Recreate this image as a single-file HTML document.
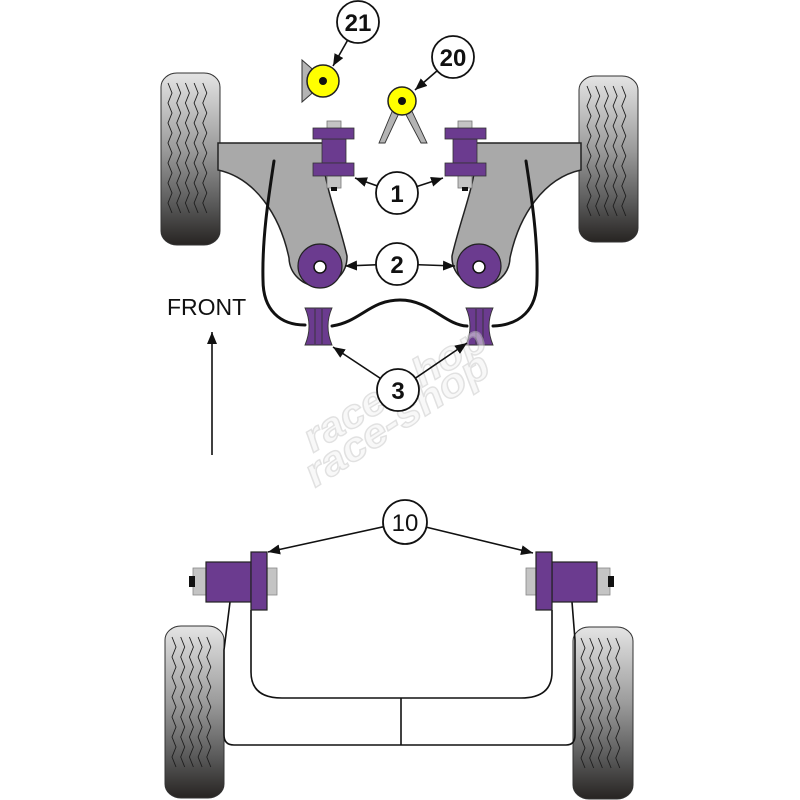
<!DOCTYPE html>
<html>
<head>
<meta charset="utf-8">
<style>
html,body{margin:0;padding:0;background:#fff;}
svg{display:block;}
text{font-family:"Liberation Sans",Arial,sans-serif;}
</style>
</head>
<body>
<svg width="800" height="800" viewBox="0 0 800 800" xmlns="http://www.w3.org/2000/svg">
<defs>
  <linearGradient id="tyre" x1="0" y1="0" x2="0" y2="1">
    <stop offset="0" stop-color="#e4e4e4"/>
    <stop offset="0.45" stop-color="#9a9a9a"/>
    <stop offset="0.78" stop-color="#565656"/>
    <stop offset="1" stop-color="#272422"/>
  </linearGradient>
  <g id="tr">
    <path fill="none" stroke="#1e1e1e" stroke-width="0.9" d="
      M0,0 l4,10 l-4,10 l4,10 l-4,10 l4,10 l-4,10 l4,10 l-4,10 l4,10 l-4,10 l4,10 l-4,10 l4,10
      M8.7,0 l4,10 l-4,10 l4,10 l-4,10 l4,10 l-4,10 l4,10 l-4,10 l4,10 l-4,10 l4,10 l-4,10 l4,10
      M17.4,0 l4,10 l-4,10 l4,10 l-4,10 l4,10 l-4,10 l4,10 l-4,10 l4,10 l-4,10 l4,10 l-4,10 l4,10
      M26.1,0 l4,10 l-4,10 l4,10 l-4,10 l4,10 l-4,10 l4,10 l-4,10 l4,10 l-4,10 l4,10 l-4,10 l4,10
      M34.8,0 l4,10 l-4,10 l4,10 l-4,10 l4,10 l-4,10 l4,10 l-4,10 l4,10 l-4,10 l4,10 l-4,10 l4,10"/>
  </g>
  <marker id="ah" viewBox="0 0 12 10" refX="12" refY="5" markerWidth="12" markerHeight="10" markerUnits="userSpaceOnUse" orient="auto">
    <path d="M0,0 L12,5 L0,10 z" fill="#111"/>
  </marker>
</defs>

<rect width="800" height="800" fill="#fff"/>

<!-- ============ WHEELS ============ -->
<g stroke="#333" stroke-width="1">
  <rect x="161" y="73" width="59" height="172" rx="16" ry="14" fill="url(#tyre)"/>
  <rect x="579" y="76" width="59" height="166" rx="16" ry="14" fill="url(#tyre)"/>
  <rect x="165" y="626" width="59" height="172" rx="16" ry="14" fill="url(#tyre)"/>
  <rect x="573" y="627" width="60" height="172" rx="16" ry="14" fill="url(#tyre)"/>
</g>
<use href="#tr" transform="translate(168,83)"/>
<use href="#tr" transform="translate(587,86)"/>
<use href="#tr" transform="translate(172,637)"/>
<use href="#tr" transform="translate(581,638)"/>

<!-- ============ TOP ARMS ============ -->
<g>
  <path d="M218,143 L324,143 L324,168 C328,195 340,225 347,256 A29,29 0 1 1 289,258 C280,215 255,178 218,170 Z" fill="#a9a9a9" stroke="#222" stroke-width="1.5"/>
  <circle cx="320" cy="266" r="22" fill="#6b3b8f" stroke="#222" stroke-width="1.2"/>
  <circle cx="320" cy="267" r="6" fill="#fff" stroke="#111" stroke-width="1.5"/>
  <rect x="327" y="121" width="14" height="8" fill="#c4c4c4" stroke="#777" stroke-width="0.8"/>
  <rect x="327" y="175" width="14" height="13" fill="#c4c4c4" stroke="#777" stroke-width="0.8"/>
  <rect x="331" y="187" width="6" height="4" fill="#111"/>
  <rect x="322" y="139" width="24" height="24" fill="#6b3b8f" stroke="#333" stroke-width="0.8"/>
  <rect x="313" y="128" width="41" height="11" fill="#6b3b8f" stroke="#333" stroke-width="0.8"/>
  <rect x="313" y="163" width="41" height="13" fill="#6b3b8f" stroke="#333" stroke-width="0.8"/>
</g>
<g transform="translate(799,0) scale(-1,1)">
  <path d="M218,143 L324,143 L324,168 C328,195 340,225 347,256 A29,29 0 1 1 289,258 C280,215 255,178 218,170 Z" fill="#a9a9a9" stroke="#222" stroke-width="1.5"/>
  <circle cx="320" cy="266" r="22" fill="#6b3b8f" stroke="#222" stroke-width="1.2"/>
  <circle cx="320" cy="267" r="6" fill="#fff" stroke="#111" stroke-width="1.5"/>
</g>

<!-- ============ ANTI-ROLL BAR ============ -->
<g fill="none" stroke="#111" stroke-width="3" stroke-linecap="round">
  <path d="M274,161 C268,200 262,240 263,280 C263,310 280,325 305,325"/>
  <path d="M332,326 C360,322 370,300 400,300 C430,300 445,325 467,326"/>
  <path d="M493,326 C520,325 537,310 537,280 C538,240 532,200 526,161"/>
</g>

<g transform="translate(799,0) scale(-1,1)">
  <rect x="327" y="121" width="14" height="8" fill="#c4c4c4" stroke="#777" stroke-width="0.8"/>
  <rect x="327" y="175" width="14" height="13" fill="#c4c4c4" stroke="#777" stroke-width="0.8"/>
  <rect x="331" y="187" width="6" height="4" fill="#111"/>
  <rect x="322" y="139" width="24" height="24" fill="#6b3b8f" stroke="#333" stroke-width="0.8"/>
  <rect x="313" y="128" width="41" height="11" fill="#6b3b8f" stroke="#333" stroke-width="0.8"/>
  <rect x="313" y="163" width="41" height="13" fill="#6b3b8f" stroke="#333" stroke-width="0.8"/>
</g>

<!-- link bushings 3 -->
<g stroke="#333" stroke-width="0.9">
  <path d="M305,308 L332,308 Q324,326 332,345 L305,345 Q313,326 305,308 Z" fill="#6b3b8f"/>
  <line x1="315" y1="309" x2="315" y2="344"/>
  <line x1="322" y1="309" x2="322" y2="344"/>
</g>
<g transform="translate(798,0) scale(-1,1)" stroke="#333" stroke-width="0.9">
  <path d="M305,308 L332,308 Q324,326 332,345 L305,345 Q313,326 305,308 Z" fill="#6b3b8f"/>
  <line x1="315" y1="309" x2="315" y2="344"/>
  <line x1="322" y1="309" x2="322" y2="344"/>
</g>

<!-- ============ ITEM 21 / 20 ============ -->
<polygon points="302,60 302,102 326,81" fill="#b4b4b4" stroke="#333" stroke-width="1"/>
<circle cx="323" cy="81" r="16" fill="#ffff00" stroke="#222" stroke-width="1.5"/>
<circle cx="323" cy="81" r="4" fill="#111"/>

<polygon points="394,107 400,111 385,143 379,143" fill="#b4b4b4" stroke="#333" stroke-width="0.9"/>
<polygon points="404,111 410,107 427,143 421,143" fill="#b4b4b4" stroke="#333" stroke-width="0.9"/>
<circle cx="402" cy="101" r="14" fill="#ffff00" stroke="#222" stroke-width="1.5"/>
<circle cx="402" cy="101" r="4" fill="#111"/>

<!-- ============ BOTTOM FRAME ============ -->
<g fill="none" stroke="#111" stroke-width="1.6">
  <path d="M230,602 L224,650 L224,735 Q224,745 234,745 L566,745 Q575,745 575,735 L575,640 L572,602"/>
  <path d="M251,610 L251,672 C251,690 262,698 282,698 L521,698 C541,698 552,690 552,672 L552,610"/>
  <line x1="401" y1="698" x2="401" y2="745"/>
</g>

<g>
  <rect x="193" y="568" width="13" height="27" fill="#c4c4c4" stroke="#888" stroke-width="0.8"/>
  <rect x="189" y="576" width="6" height="11" fill="#111"/>
  <rect x="267" y="568" width="10" height="27" fill="#c4c4c4" stroke="#888" stroke-width="0.8"/>
  <rect x="206" y="562" width="45" height="40" fill="#6b3b8f" stroke="#222" stroke-width="1.2"/>
  <rect x="251" y="552" width="16" height="58" fill="#6b3b8f" stroke="#222" stroke-width="1.2"/>
</g>
<g transform="translate(803,0) scale(-1,1)">
  <rect x="193" y="568" width="13" height="27" fill="#c4c4c4" stroke="#888" stroke-width="0.8"/>
  <rect x="189" y="576" width="6" height="11" fill="#111"/>
  <rect x="267" y="568" width="10" height="27" fill="#c4c4c4" stroke="#888" stroke-width="0.8"/>
  <rect x="206" y="562" width="45" height="40" fill="#6b3b8f" stroke="#222" stroke-width="1.2"/>
  <rect x="251" y="552" width="16" height="58" fill="#6b3b8f" stroke="#222" stroke-width="1.2"/>
</g>

<!-- ============ WATERMARK ============ -->
<g opacity="0.5" font-style="italic" font-weight="bold" font-size="40" fill="#f2f2f2" stroke="#c4c4c4" stroke-width="1.4">
  <text x="313" y="453" transform="rotate(-31 313 453)" textLength="206" lengthAdjust="spacingAndGlyphs">race-shop</text>
  <text x="315" y="488" transform="rotate(-33 315 488)" textLength="212" lengthAdjust="spacingAndGlyphs">race-shop</text>
</g>

<!-- ============ ARROWS ============ -->
<g stroke="#111" stroke-width="1.6" fill="none" marker-end="url(#ah)">
  <line x1="358" y1="22" x2="333" y2="66"/>
  <line x1="453" y1="57" x2="415" y2="90"/>
  <line x1="397" y1="193" x2="355" y2="178"/>
  <line x1="397" y1="193" x2="443" y2="178"/>
  <line x1="397" y1="264" x2="345" y2="266"/>
  <line x1="397" y1="264" x2="455" y2="266"/>
  <line x1="398" y1="390" x2="333" y2="347"/>
  <line x1="398" y1="390" x2="467" y2="343"/>
  <line x1="405" y1="522" x2="268" y2="552"/>
  <line x1="405" y1="522" x2="533" y2="553"/>
  <line x1="212" y1="455" x2="212" y2="332"/>
</g>

<!-- ============ LABEL CIRCLES ============ -->
<g fill="#fff" stroke="#111" stroke-width="1.8">
  <circle cx="358" cy="22" r="21"/>
  <circle cx="453" cy="57" r="21"/>
  <circle cx="397" cy="193" r="21"/>
  <circle cx="397" cy="264" r="21"/>
  <circle cx="398" cy="390" r="21"/>
  <circle cx="405" cy="522" r="22"/>
</g>
<g font-size="24" font-weight="bold" fill="#111" text-anchor="middle">
  <text x="358" y="31">21</text>
  <text x="453" y="66">20</text>
  <text x="397" y="202">1</text>
  <text x="397" y="273">2</text>
  <text x="398" y="399">3</text>
</g>
<text x="405" y="531" font-size="24" fill="#111" text-anchor="middle">10</text>

<text x="167" y="315" font-size="23" fill="#111">FRONT</text>
</svg>
</body>
</html>
